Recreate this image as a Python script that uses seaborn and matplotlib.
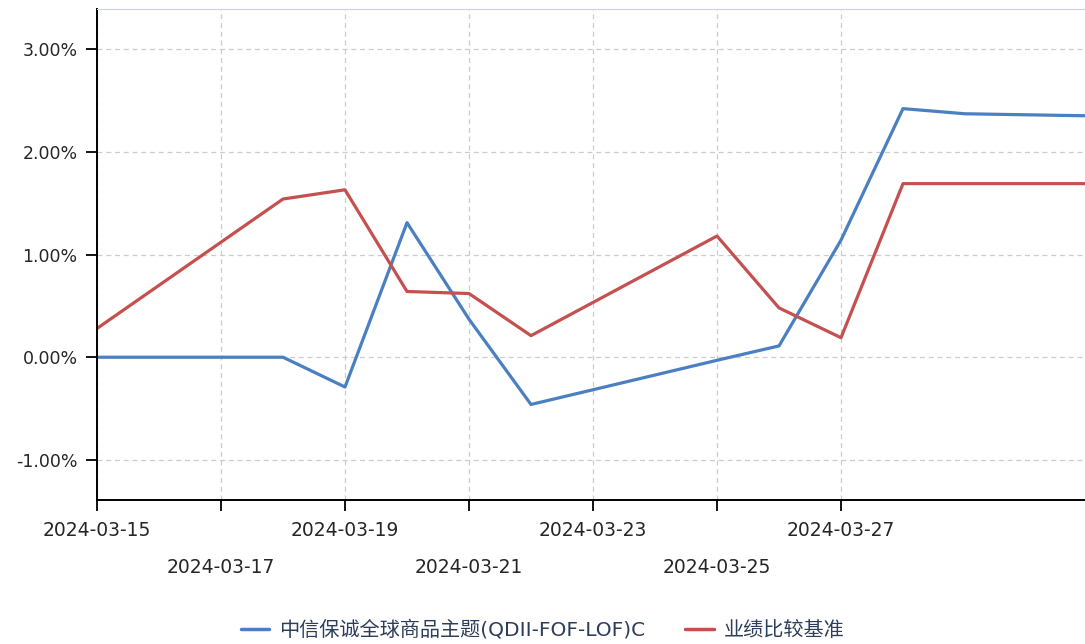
# 收益走势图：基金 vs 业绩比较基准
import seaborn as sns
import matplotlib.pyplot as plt
import matplotlib.dates as mdates
from matplotlib.ticker import FuncFormatter
import pandas as pd

dates = ['2024-03-15', '2024-03-18', '2024-03-19', '2024-03-20', '2024-03-21',
         '2024-03-22', '2024-03-25', '2024-03-26', '2024-03-27', '2024-03-28',
         '2024-03-29', '2024-03-31']
fund = [0.00, 0.00, -0.29, 1.31, 0.37, -0.46, -0.03, 0.11, 1.14, 2.42, 2.37, 2.35]
bench = [0.28, 1.54, 1.63, 0.64, 0.62, 0.21, 1.18, 0.48, 0.19, 1.69, 1.69, 1.69]
names = ['中信保诚全球商品主题(QDII-FOF-LOF)C', '业绩比较基准']
colors = ['#4a7fc1', '#c4504f']
tick_dates = pd.date_range('2024-03-15', '2024-03-27', freq='2D')

df = pd.DataFrame({'date': pd.to_datetime(dates) , names[0]: fund, names[1]: bench})
df = df.melt(id_vars='date', var_name='series', value_name='ret')

sns.set_style('white')
plt.rcParams['font.family'] = ['DejaVu Sans', 'Noto Sans CJK SC']

fig = plt.figure(figsize=(10.85, 6.44), dpi=100)
ax = fig.add_axes([97/1085, 144/644, (1085-97+4)/1085, (500-9)/644])

sns.lineplot(data=df, x='date', y='ret', hue='series', palette=colors,
             linewidth=2.3, ax=ax, legend=False)

ax.set_xlim(pd.Timestamp('2024-03-15'), pd.Timestamp('2024-03-31'))
ax.set_ylim(-1.39, 3.39)
ax.set_yticks([-1, 0, 1, 2, 3])
ax.yaxis.set_major_formatter(FuncFormatter(lambda v, p: f'{v:.2f}%'))
ax.set_xticks(tick_dates)
ax.xaxis.set_major_formatter(mdates.DateFormatter('%Y-%m-%d'))
ax.set_xlabel('')
ax.set_ylabel('')

ax.grid(True, color='#cccccc', linestyle=(0, (4, 3)), linewidth=0.9)
ax.tick_params(axis='x', bottom=True, direction='out', length=8, width=1.3,
               color='black', labelsize=13.5)
ax.tick_params(axis='y', left=True, direction='out', length=8, width=1.3,
               color='black', labelsize=12.5, pad=6)
for i, t in enumerate(ax.xaxis.get_major_ticks()):
    t.set_pad(7 if i % 2 == 0 else 34)

for s in ['left', 'bottom']:
    ax.spines[s].set_color('black')
    ax.spines[s].set_linewidth(1.4)
ax.spines['top'].set_color('#c8d2e0')
ax.spines['right'].set_visible(False)

handles = [plt.Line2D([], [], color=c, linewidth=2.5) for c in colors]
fig.legend(handles, names, loc='center', bbox_to_anchor=(0.5, 14/644), ncol=2,
           frameon=False, fontsize=14.5, handlelength=1.4, handletextpad=0.5,
           columnspacing=2.0, labelcolor='#2d3e5c')

fig.savefig('out.png', dpi=100)
